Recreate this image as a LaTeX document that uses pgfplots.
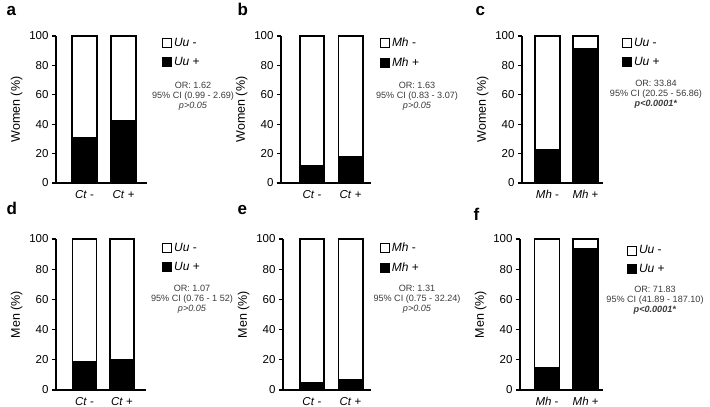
\documentclass[border=0pt]{standalone}
\usepackage{fontspec}
\setmainfont{Liberation Sans}
\usepackage{pgfplots}
\pgfplotsset{compat=1.18}
\definecolor{statgray}{HTML}{3A3A3A}

\pgfplotsset{
  panel/.style={
    scale only axis, height=147pt,
    ybar stacked, ymin=0, ymax=100, ytick={0,20,...,100},
    xtick={0,1},
    axis x line*=bottom, axis y line*=left,
    axis line style={line width=1.1pt},
    tick align=outside, major tick length=4pt,
    ytick style={line width=1.1pt, black},
    xtick style={draw=none},
    tick label style={font=\fontsize{11.5}{12}\selectfont},
    label style={font=\fontsize{12.5}{13}\selectfont},
    /pgf/number format/assume math mode=true,
    legend image code/.code={\draw[#1, line width=0.8pt] (0pt,-4.5pt) rectangle (9pt,4.5pt);},
    legend style={draw=none, fill=none, anchor=north west, inner sep=0pt,
      font=\fontsize{12}{12}\selectfont, row sep=5pt},
    legend cell align=left,
    legend reversed,
  },
  bplus/.style={fill=black, draw=black, line width=1.6pt},
  bminus/.style={fill=white, draw=black, line width=1.6pt},
}
\tikzset{
  stat/.style={align=center, font=\fontsize{9.1}{10}\selectfont, text=statgray},
  plabel/.style={anchor=base west, font=\fontsize{17}{17}\selectfont\bfseries},
}

\begin{document}
\begin{tikzpicture}
\useasboundingbox (0,0) rectangle (710pt,407pt);

% a
\begin{axis}[panel, at={(56pt,224pt)}, anchor=south west, width=91pt,
  xmin=-0.73, xmax=1.60, bar width=0.64,
  ylabel={Women (\%)}, xticklabels={\textit{Ct} -, \textit{Ct} +},
  legend style={at={(1.165,1.0)}}]
\addplot[bplus] coordinates {(0,31) (1,42)};
\addlegendentry{\textit{Uu} +}
\addplot[bminus] coordinates {(0,69) (1,58)};
\addlegendentry{\textit{Uu} -}
\end{axis}

% b
\begin{axis}[panel, at={(281pt,224pt)}, anchor=south west, width=90pt,
  xmin=-0.805, xmax=1.53, bar width=0.63,
  ylabel={Women (\%)}, xticklabels={\textit{Ct} -, \textit{Ct} +},
  legend style={at={(1.10,1.0)}}]
\addplot[bplus] coordinates {(0,12) (1,18)};
\addlegendentry{\textit{Mh} +}
\addplot[bminus] coordinates {(0,88) (1,82)};
\addlegendentry{\textit{Mh} -}
\end{axis}

% c
\begin{axis}[panel, at={(522pt,224pt)}, anchor=south west, width=81pt,
  xmin=-0.67, xmax=1.46, bar width=0.66,
  ylabel={Women (\%)}, xticklabels={\textit{Mh} -, \textit{Mh} +},
  legend style={at={(1.235,1.0)}}]
\addplot[bplus] coordinates {(0,22.5) (1,91.5)};
\addlegendentry{\textit{Uu} +}
\addplot[bminus] coordinates {(0,77.5) (1,8.5)};
\addlegendentry{\textit{Uu} -}
\end{axis}

% d
\begin{axis}[panel, at={(56pt,17pt)}, anchor=south west, width=90pt, height=151pt,
  xmin=-0.76, xmax=1.64, bar width=0.65,
  ylabel={Men (\%)}, xticklabels={\textit{Ct} -, \textit{Ct} +},
  legend style={at={(1.18,0.987)}}]
\addplot[bplus] coordinates {(0,19) (1,20)};
\addlegendentry{\textit{Uu} +}
\addplot[bminus] coordinates {(0,81) (1,80)};
\addlegendentry{\textit{Uu} -}
\end{axis}

% e
\begin{axis}[panel, at={(283pt,17pt)}, anchor=south west, width=88pt, height=151pt,
  xmin=-0.75, xmax=1.53, bar width=0.63,
  ylabel={Men (\%)}, xticklabels={\textit{Ct} -, \textit{Ct} +},
  legend style={at={(1.10,0.987)}}]
\addplot[bplus] coordinates {(0,5) (1,7)};
\addlegendentry{\textit{Mh} +}
\addplot[bminus] coordinates {(0,95) (1,93)};
\addlegendentry{\textit{Mh} -}
\end{axis}

% f
\begin{axis}[panel, at={(520pt,17pt)}, anchor=south west, width=83pt, height=151pt,
  xmin=-0.70, xmax=1.45, bar width=0.64,
  ylabel={Men (\%)}, xticklabels={\textit{Mh} -, \textit{Mh} +},
  legend style={at={(1.29,0.97)}}]
\addplot[bplus] coordinates {(0,15) (1,93.5)};
\addlegendentry{\textit{Uu} +}
\addplot[bminus] coordinates {(0,85) (1,6.5)};
\addlegendentry{\textit{Uu} -}
\end{axis}

% statistics
\node[stat] at (193pt,311pt) {OR: 1.62\\95\% CI (0.99 - 2.69)\\\textit{p>0.05}};
\node[stat] at (417pt,311pt) {OR: 1.63\\95\% CI (0.83 - 3.07)\\\textit{p>0.05}};
\node[stat] at (656pt,313pt) {OR: 33.84\\95\% CI (20.25 - 56.86)\\\textbf{\textit{p<0.0001*}}};
\node[stat] at (192pt,108pt) {OR: 1.07\\95\% CI (0.76 - 1 52)\\\textit{p>0.05}};
\node[stat] at (417pt,108pt) {OR: 1.31\\95\% CI (0.75 - 32.24)\\\textit{p>0.05}};
\node[stat] at (655pt,107pt) {OR: 71.83\\95\% CI (41.89 - 187.10)\\\textbf{\textit{p<0.0001*}}};

% panel letters
\node[plabel] at (3pt,391pt) {a};
\node[plabel] at (234pt,391pt) {b};
\node[plabel] at (472pt,391pt) {c};
\node[plabel] at (3pt,192pt) {d};
\node[plabel] at (234pt,192pt) {e};
\node[plabel] at (470pt,186pt) {f};
\end{tikzpicture}
\end{document}
